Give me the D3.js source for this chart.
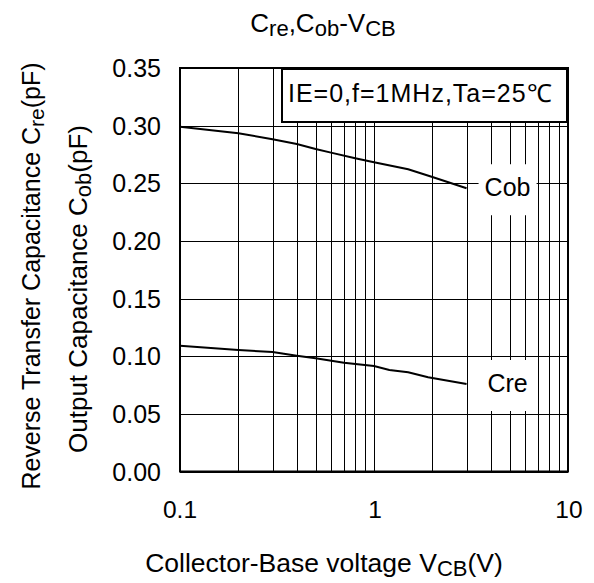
<!DOCTYPE html>
<html>
<head>
<meta charset="utf-8">
<script src="https://cdn.jsdelivr.net/npm/d3@7"></script>
<style>
  body { margin: 0; background: #fff; }
  text { font-family: "Liberation Sans", Arial, sans-serif; fill: #000; }
</style>
</head>
<body>
<div id="chart"></div>
<script>
// data
const xTickLabels = [0.1, 1, 10]
const yTickLabels = [0, 0.05, 0.10, 0.15, 0.20, 0.25, 0.30, 0.35]
const cobVcb = [0.1, 0.2, 0.3, 0.4, 0.5, 0.6, 0.8, 1, 1.5, 2, 3]
const cobVal = [0.299, 0.2934, 0.2882, 0.2841, 0.2798, 0.2766, 0.2717, 0.2682, 0.2622, 0.2555, 0.2457]
const creVcb = [0.1, 0.2, 0.3, 0.4, 0.5, 0.7, 1, 1.2, 1.5, 1.9, 3]
const creVal = [0.1091, 0.1054, 0.1037, 0.1005, 0.0982, 0.0944, 0.0915, 0.088, 0.086, 0.0817, 0.0759]
const seriesNames = ['Cob', 'Cre']
const note = 'IE=0,f=1MHz,Ta=25℃'

const W = 594
const H = 583
const margin = {top: 68, left: 180, right: 26, bottom: 111.5}
const width = W - margin.left - margin.right
const height = H - margin.top - margin.bottom

let svg = d3.select('#chart').append('svg')
  .attr('width', W)
  .attr('height', H)

let g = svg.append('g')
  .attr('transform', `translate(${margin.left},${margin.top})`)

const x = d3.scaleLog().domain([0.1, 10]).range([0, width])
const y = d3.scaleLinear().domain([0, 0.35]).range([height, 0])

// grid
g.append('g')
  .selectAll('line')
  .data(x.ticks())
  .enter()
  .append('line')
  .attr('x1', d => Math.round(x(d)) + 0.5)
  .attr('x2', d => Math.round(x(d)) + 0.5)
  .attr('y1', 0)
  .attr('y2', height)
  .style('stroke', '#000')
  .style('stroke-width', 1)

g.append('g')
  .selectAll('line')
  .data(yTickLabels)
  .enter()
  .append('line')
  .attr('x1', 0)
  .attr('x2', width)
  .attr('y1', d => Math.round(y(d)) + 0.5)
  .attr('y2', d => Math.round(y(d)) + 0.5)
  .style('stroke', '#000')
  .style('stroke-width', 1)

// condition box
const boxLeft = 102
g.append('rect')
  .attr('x', boxLeft)
  .attr('y', 1)
  .attr('width', width - boxLeft - 1)
  .attr('height', 53)
  .style('fill', '#fff')
  .style('stroke', '#000')
  .style('stroke-width', 2)

g.append('text')
  .attr('x', boxLeft + 6)
  .attr('y', 34)
  .style('font-size', '25px')
  .style('letter-spacing', '1px')
  .text(note)

// curves
let series = [
  cobVcb.map((v, i) => ({x: v, y: cobVal[i]})),
  creVcb.map((v, i) => ({x: v, y: creVal[i]}))
]
let line = d3.line().x(d => x(d.x)).y(d => y(d.y))

series.forEach((s, i) => {
  let last = s[s.length - 1]
  let lx = x(last.x) + 41
  let ly = y(last.y)
  g.append('rect')
    .attr('x', lx - 29)
    .attr('y', ly - 24)
    .attr('width', 58)
    .attr('height', 51)
    .style('fill', '#fff')
  g.append('text')
    .attr('x', lx)
    .attr('y', ly + 8)
    .attr('text-anchor', 'middle')
    .style('font-size', '25px')
    .text(seriesNames[i])

  g.append('path')
    .datum(s)
    .attr('d', line)
    .style('fill', 'none')
    .style('stroke', '#000')
    .style('stroke-width', 2)
})

// frame
g.append('rect')
  .attr('x', 0)
  .attr('y', 0)
  .attr('width', width)
  .attr('height', height)
  .style('fill', 'none')
  .style('stroke', '#000')
  .style('stroke-width', 2)

// tick labels
g.append('g')
  .selectAll('text')
  .data(yTickLabels)
  .enter()
  .append('text')
  .attr('x', -19)
  .attr('y', d => y(d))
  .attr('dy', '0.36em')
  .attr('text-anchor', 'end')
  .style('font-size', '25px')
  .text(d => d3.format('.2f')(d))

g.append('g')
  .selectAll('text')
  .data(xTickLabels)
  .enter()
  .append('text')
  .attr('x', d => x(d) + (d < 1 ? 0 : 1))
  .attr('y', height + 46)
  .attr('text-anchor', 'middle')
  .style('font-size', '24.5px')
  .text(d => d)

// titles
let sub = function (t, parts, size) {
  parts.forEach(p => {
    t.append('tspan')
      .attr('dy', p[1] ? 4 : (p[2] ? -4 : 0))
      .style('font-size', p[1] ? size : null)
      .text(p[0])
  })
}

let title = svg.append('text')
  .attr('x', 323)
  .attr('y', 32)
  .attr('text-anchor', 'middle')
  .style('font-size', '26px')
sub(title, [['C'], ['re', 1], [',C', 0, 1], ['ob', 1], ['-V', 0, 1], ['CB', 1]], '22px')

let xTitle = svg.append('text')
  .attr('x', 324)
  .attr('y', 572)
  .attr('text-anchor', 'middle')
  .style('font-size', '26.5px')
sub(xTitle, [['Collector-Base voltage V'], ['CB', 1], ['(V)', 0, 1]], '22px')

let yTitle1 = svg.append('text')
  .attr('transform', 'translate(40,276) rotate(-90)')
  .attr('text-anchor', 'middle')
  .style('font-size', '25px')
sub(yTitle1, [['Reverse Transfer Capacitance C'], ['re', 1], ['(pF)', 0, 1]], '21px')

let yTitle2 = svg.append('text')
  .attr('transform', 'translate(87,289) rotate(-90)')
  .attr('text-anchor', 'middle')
  .style('font-size', '26px')
sub(yTitle2, [['Output Capacitance C'], ['ob', 1], ['(pF)', 0, 1]], '22px')
</script>
</body>
</html>
